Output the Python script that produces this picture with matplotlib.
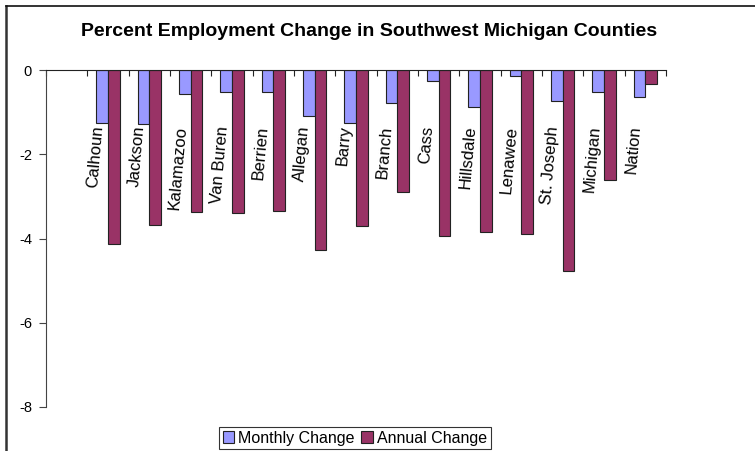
import numpy as np
import matplotlib
matplotlib.use('Agg')
import matplotlib.pyplot as plt
from matplotlib.lines import Line2D

plt.rcParams['font.family'] = ['Liberation Sans', 'DejaVu Sans']

# first slot is empty in the original chart
areas = ['', 'Calhoun', 'Jackson', 'Kalamazoo', 'Van Buren', 'Berrien', 'Allegan', 'Barry',
         'Branch', 'Cass', 'Hillsdale', 'Lenawee', 'St. Joseph', 'Michigan', 'Nation']
monthly = [np.nan, -1.27, -1.29, -0.56, -0.53, -0.53, -1.10, -1.25,
           -0.78, -0.25, -0.89, -0.14, -0.74, -0.52, -0.65]
annual = [np.nan, -4.14, -3.67, -3.37, -3.39, -3.34, -4.27, -3.71,
          -2.89, -3.93, -3.85, -3.89, -4.76, -2.60, -0.33]
yticks = [0, -2, -4, -6, -8]

fig = plt.figure(figsize=(7.55, 4.51), dpi=100)
ax = fig.add_axes([46 / 755, 1 - 407 / 451, 620 / 755, 337 / 451])

x = np.arange(len(areas))
w = 0.28
ax.bar(x - w / 2, monthly, width=w, color='#9999FF', edgecolor='#222222', linewidth=0.8,
       label='Monthly Change')
ax.bar(x + w / 2, annual, width=w, color='#993366', edgecolor='#222222', linewidth=0.8,
       label='Annual Change')

ax.set_xlim(-0.5, len(areas) - 0.5)
ax.set_ylim(-8, 0)

# category axis sits on the zero line at the top
ax.spines['bottom'].set_visible(False)
ax.spines['right'].set_visible(False)
ax.spines['top'].set_color('#222222')
ax.spines['left'].set_color('#444444')
ax.set_xticks(np.arange(len(areas) + 1) - 0.5)
ax.xaxis.tick_top()
ax.tick_params(axis='x', direction='in', length=4, labeltop=False, color='#222222')
ax.set_yticks(yticks)
ax.set_yticklabels([str(v) for v in yticks], fontsize=10.5)
ax.tick_params(axis='y', direction='out', length=5, pad=5, color='#444444')

for i, name in enumerate(areas):
    if name:
        ax.text(i - 0.3, -1.31, name, rotation=85, ha='center', va='top', fontsize=12)

fig.text(369 / 755, 1 - 31 / 451, 'Percent Employment Change in Southwest Michigan Counties',
         ha='center', va='center', fontsize=14, fontweight='bold')

leg = fig.legend(loc='center', bbox_to_anchor=(355 / 755, 1 - 438 / 451), ncol=2, fontsize=11.5,
                 frameon=True, fancybox=False, edgecolor='black', handlelength=0.7,
                 handleheight=0.7, handletextpad=0.3, columnspacing=0.4, borderpad=0.2,
                 borderaxespad=0)
leg.get_frame().set_linewidth(0.8)

# chart area border: only the left and top edges show in the screenshot
fig.lines.append(Line2D([5.5 / 755, 5.5 / 755], [0, 1 - 6 / 451], transform=fig.transFigure,
                        color='#333333', linewidth=1.8))
fig.lines.append(Line2D([5.5 / 755, 1], [1 - 6 / 451, 1 - 6 / 451], transform=fig.transFigure,
                        color='#111111', linewidth=1.2))

fig.savefig('out.png', dpi=100)
